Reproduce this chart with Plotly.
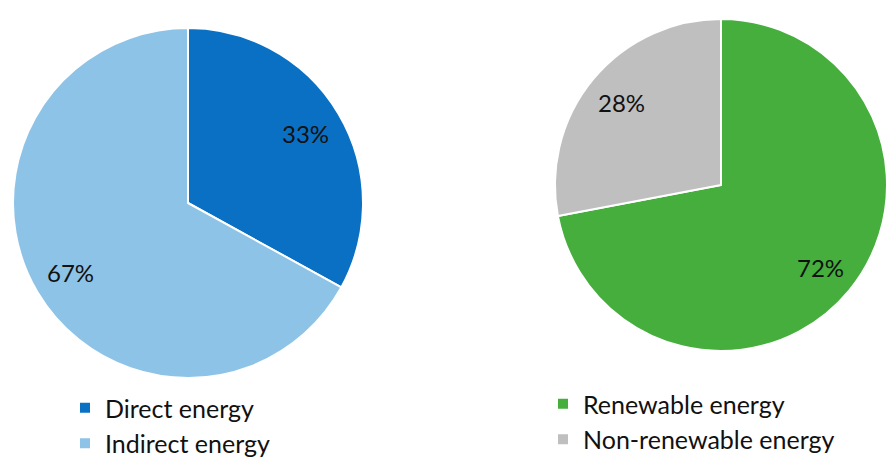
import math
import plotly.graph_objects as go

# ---- data ----
energy_labels = ["Direct energy", "Indirect energy"]
energy_values = [33, 67]
source_labels = ["Renewable energy", "Non-renewable energy"]
source_values = [72, 28]

energy_colors = ["#0A70C4", "#8EC3E8"]
source_colors = ["#45AE3C", "#BFBFBF"]

W, H = 887, 460
FONT = "Lato, 'Open Sans', sans-serif"

# pie geometry in pixels (center x, center y from top, radius)
pies = [
    dict(cx=188, cy=203, r=175),
    dict(cx=721, cy=185, r=166),
]


def domain(p):
    return dict(
        x=[(p["cx"] - p["r"]) / W, min(1.0, (p["cx"] + p["r"]) / W)],
        y=[1 - (p["cy"] + p["r"]) / H, 1 - (p["cy"] - p["r"]) / H],
    )


fig = go.Figure()
fig.add_trace(go.Pie(
    labels=energy_labels, values=energy_values, sort=False, direction="clockwise",
    rotation=0, marker=dict(colors=energy_colors, line=dict(color="white", width=2)),
    textinfo="none", domain=domain(pies[0]), legend="legend", hoverinfo="label+percent",
))
fig.add_trace(go.Pie(
    labels=source_labels, values=source_values, sort=False, direction="clockwise",
    rotation=0, marker=dict(colors=source_colors, line=dict(color="white", width=2)),
    textinfo="none", domain=domain(pies[1]), legend="legend2", hoverinfo="label+percent",
))

# percentage labels placed along each slice's mid-angle
annotations = []
for p, vals in zip(pies, [energy_values, source_values]):
    total = sum(vals)
    cum = 0
    for v in vals:
        mid = (cum + v / 2) / total
        cum += v
        th = 2 * math.pi * mid
        px = p["cx"] + 0.78 * p["r"] * math.sin(th)
        py = p["cy"] - 0.78 * p["r"] * math.cos(th)
        annotations.append(dict(
            x=px / W, y=1 - py / H, xref="paper", yref="paper",
            text=f"{round(100 * v / total)}%", showarrow=False,
            font=dict(family=FONT, size=24, color="#111111"),
            xanchor="center", yanchor="middle",
        ))

fig.update_layout(
    width=W, height=H, margin=dict(l=0, r=0, t=0, b=0, autoexpand=False),
    paper_bgcolor="white", plot_bgcolor="white",
    font=dict(family=FONT, size=25, color="#111111"),
    annotations=annotations,
    legend=dict(x=65 / W, y=1 - 385 / H, xanchor="left", yanchor="top",
                font=dict(family=FONT, size=25, color="#111111"),
                bgcolor="rgba(0,0,0,0)"),
    legend2=dict(x=543 / W, y=1 - 381 / H, xanchor="left", yanchor="top",
                 font=dict(family=FONT, size=25, color="#111111"),
                 bgcolor="rgba(0,0,0,0)"),
)

fig.write_html("out.html")
